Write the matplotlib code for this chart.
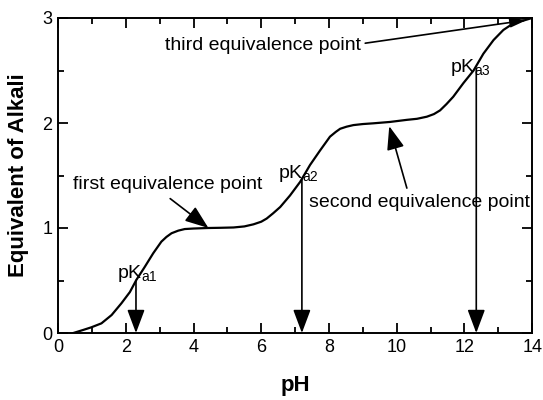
import matplotlib
matplotlib.use("Agg")
import matplotlib.pyplot as plt
from matplotlib.ticker import MultipleLocator

plt.rcParams['font.family'] = ['Liberation Sans', 'DejaVu Sans']

# Titration curve
ph = [0.45, 0.75, 0.98, 1.28, 1.58, 1.87, 2.12, 2.31, 2.56, 2.81, 3.05, 3.2, 3.35, 3.55, 3.74, 4.0,
      4.43, 4.8, 5.18, 5.5, 5.77, 6.0, 6.16, 6.35, 6.56, 6.85, 7.15, 7.44, 7.74, 8.03, 8.2, 8.33,
      8.52, 8.72, 9.0, 9.31, 9.8, 10.3, 10.6, 10.89, 11.1, 11.28, 11.47, 11.67, 11.97, 12.27,
      12.56, 12.86, 13.15, 13.45, 13.65, 13.79, 14.0]
eq = [0.0, 0.03, 0.054, 0.092, 0.171, 0.283, 0.39, 0.505, 0.63, 0.76, 0.87, 0.915, 0.95, 0.975, 0.99, 0.995,
      1.0, 1.002, 1.005, 1.015, 1.035, 1.06, 1.09, 1.14, 1.2, 1.31, 1.44, 1.6, 1.74, 1.87, 1.915, 1.945,
      1.965, 1.98, 1.99, 1.997, 2.01, 2.03, 2.04, 2.06, 2.085, 2.12, 2.18, 2.25, 2.38, 2.5,
      2.66, 2.79, 2.886, 2.95, 2.97, 2.98, 3.0]

pka_x = [2.3, 7.2, 12.35]
pka_y = [0.5, 1.46, 2.52]
pka_labels = ['a1', 'a2', 'a3']
pka_text_x = [1.73, 6.5, 11.58]
pka_text_y = [0.57, 1.52, 2.53]

fig = plt.figure(figsize=(5.43, 4.0), dpi=100)
ax = fig.add_axes([0.107, 0.1675, 0.873, 0.7875])
ax.plot(ph, eq, color='black', lw=1.6, solid_joinstyle='round')

ax.set_xlim(0, 14)
ax.set_ylim(0, 3)
ax.xaxis.set_major_locator(MultipleLocator(2))
ax.xaxis.set_minor_locator(MultipleLocator(1))
ax.yaxis.set_major_locator(MultipleLocator(1))
ax.yaxis.set_minor_locator(MultipleLocator(0.5))
ax.tick_params(which='both', direction='in', top=True, right=True, width=1.3, labelsize=13, pad=4)
ax.tick_params(which='major', length=7)
ax.tick_params(which='minor', length=4.5)
for s in ax.spines.values():
    s.set_linewidth(1.4)

ax.set_xlabel('pH', fontsize=16, fontweight='bold', labelpad=14)
ax.set_ylabel('Equivalent of Alkali', fontsize=16, fontweight='bold', labelpad=10)

big = dict(arrowstyle='-|>,head_length=1.2,head_width=0.45', mutation_scale=12,
           color='black', lw=1.2, shrinkA=0, shrinkB=0)
for x, y, lab, tx, ty in zip(pka_x, pka_y, pka_labels, pka_text_x, pka_text_y):
    ax.annotate('', xy=(x, 0), xytext=(x, y), arrowprops=big)
    ax.text(tx, ty, r'pK$_{\mathregular{%s}}$' % lab, fontsize=14, va='center', ha='left')

ax.text(0.45, 1.41, 'first equivalence point', fontsize=14, va='center', ha='left')
ax.annotate('', xy=(4.44, 1.0), xytext=(3.31, 1.28), arrowprops=big)

ax.text(7.4, 1.24, 'second equivalence point', fontsize=14, va='center', ha='left')
ax.annotate('', xy=(9.78, 1.97), xytext=(10.3, 1.38), arrowprops=big)

ax.text(3.16, 2.74, 'third equivalence point', fontsize=14, va='center', ha='left')
small = dict(arrowstyle='-|>,head_length=1.0,head_width=0.3', mutation_scale=10,
             color='black', lw=1.2, shrinkA=0, shrinkB=0)
ax.annotate('', xy=(13.84, 2.98), xytext=(9.07, 2.76), arrowprops=small)

fig.savefig('out.png', dpi=100)
